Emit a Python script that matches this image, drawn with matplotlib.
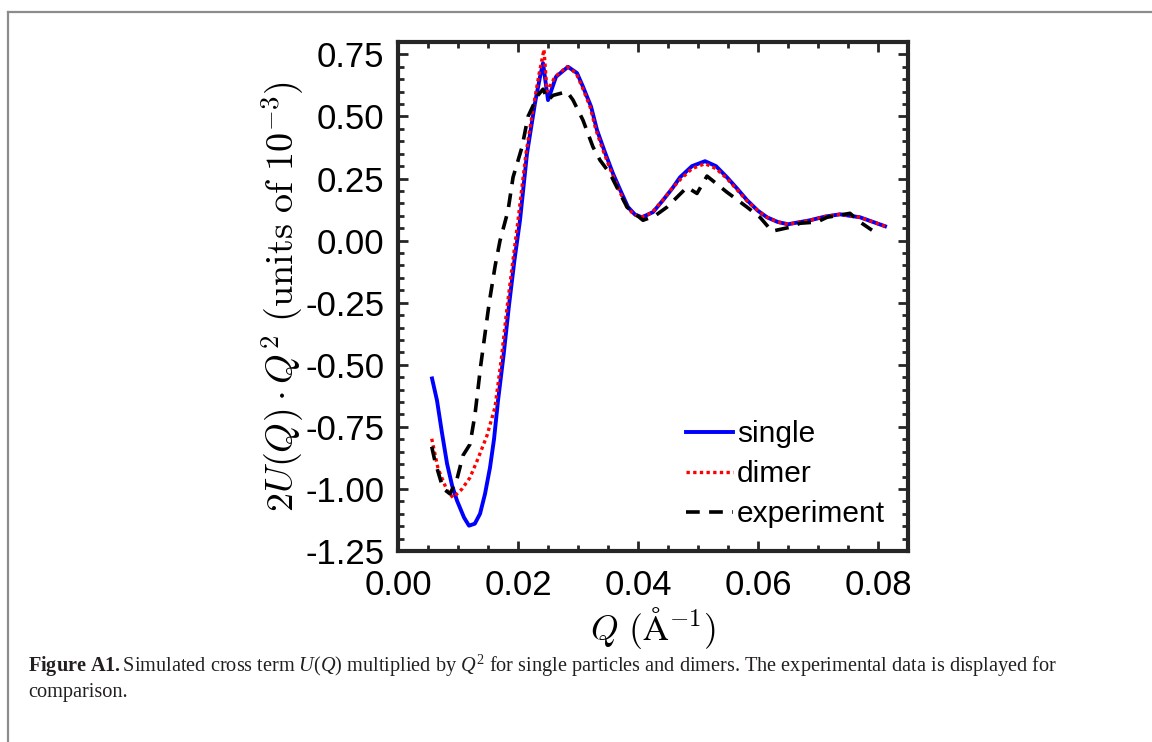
import matplotlib
matplotlib.use("Agg")
import matplotlib.pyplot as plt
from matplotlib.ticker import MultipleLocator, FormatStrFormatter
from matplotlib.lines import Line2D

# cross term U(Q)*Q^2, units of 1e-3
q_single = [0.00567, 0.0065, 0.0073, 0.00817, 0.0090, 0.00983, 0.0110, 0.01183, 0.0128,
            0.01367, 0.0145, 0.01533, 0.0160, 0.01667, 0.0176, 0.0185, 0.0194, 0.02033,
            0.0215, 0.02283, 0.02367, 0.02417, 0.025, 0.02633, 0.02833, 0.02983, 0.03083,
            0.03217, 0.03317, 0.0345, 0.03583, 0.0372, 0.03833, 0.0395, 0.04067, 0.0425,
            0.04417, 0.0457, 0.047, 0.0490, 0.05117, 0.0530, 0.05483, 0.0565, 0.05817,
            0.0600, 0.0615, 0.0633, 0.065, 0.06867, 0.0712, 0.07367, 0.077, 0.08117]
u_single = [-0.555, -0.644, -0.77, -0.898, -0.985, -1.047, -1.115, -1.148, -1.14,
            -1.10, -1.02, -0.914, -0.80, -0.644, -0.46, -0.26, -0.08, 0.082,
            0.351, 0.554, 0.66, 0.715, 0.566, 0.66, 0.70, 0.675, 0.62,
            0.54, 0.445, 0.355, 0.27, 0.195, 0.135, 0.105, 0.094, 0.115,
            0.163, 0.21, 0.255, 0.30, 0.32, 0.30, 0.255, 0.21, 0.163,
            0.12, 0.094, 0.075, 0.066, 0.082, 0.097, 0.106, 0.094, 0.058]

q_dimer = [0.00562, 0.00667, 0.00817, 0.00917, 0.01067, 0.012, 0.01333, 0.01483, 0.01617,
           0.0172, 0.01817, 0.0191, 0.02, 0.02133, 0.02267, 0.0235, 0.02433, 0.02483,
           0.02617, 0.02817, 0.02967, 0.03067, 0.032, 0.033, 0.0343, 0.03567, 0.037,
           0.03817, 0.0393, 0.0405, 0.0423, 0.044, 0.0455, 0.047, 0.049, 0.05117, 0.053,
           0.05483, 0.0565, 0.05817, 0.06, 0.0615, 0.0633, 0.065, 0.06867, 0.0712,
           0.07367, 0.077, 0.08117]
u_dimer = [-0.798, -0.918, -1.006, -1.035, -1.0, -0.954, -0.878, -0.785, -0.67,
           -0.48, -0.27, -0.09, 0.082, 0.351, 0.554, 0.67, 0.77, 0.60,
           0.66, 0.70, 0.675, 0.62, 0.54, 0.445, 0.355, 0.27, 0.195,
           0.135, 0.105, 0.094, 0.112, 0.16, 0.205, 0.245, 0.29, 0.31, 0.29,
           0.25, 0.205, 0.16, 0.12, 0.094, 0.075, 0.066, 0.082, 0.097,
           0.106, 0.094, 0.058]

q_exp = [0.00562, 0.00617, 0.0075, 0.00867, 0.00983, 0.01083, 0.012, 0.01283, 0.0138,
         0.0152, 0.0162, 0.017, 0.01833, 0.01917, 0.02067, 0.02167, 0.02333, 0.02417,
         0.025, 0.02583, 0.02817, 0.02917, 0.03083, 0.0325, 0.03367, 0.03533, 0.037,
         0.03817, 0.04083, 0.04283, 0.04483, 0.04817, 0.04983, 0.0515, 0.05483, 0.05817,
         0.06033, 0.06233, 0.06533, 0.067, 0.06983, 0.0715, 0.07533, 0.077, 0.079]
u_exp = [-0.83, -0.89, -0.998, -1.02, -0.96, -0.865, -0.82, -0.70, -0.50,
         -0.25, -0.10, 0.0, 0.12, 0.255, 0.377, 0.50, 0.586, 0.61,
         0.566, 0.585, 0.60, 0.566, 0.485, 0.377, 0.324, 0.27, 0.19,
         0.135, 0.082, 0.10, 0.135, 0.215, 0.19, 0.26, 0.195, 0.135,
         0.094, 0.038, 0.054, 0.07, 0.075, 0.094, 0.11, 0.075, 0.042]

labels = ["single", "dimer", "experiment"]

plt.rcParams["axes.unicode_minus"] = False
plt.rcParams["font.family"] = ["Liberation Sans", "DejaVu Sans"]
plt.rcParams["mathtext.fontset"] = "custom"
plt.rcParams["mathtext.rm"] = "Liberation Serif"
plt.rcParams["mathtext.it"] = "Liberation Serif:italic"
plt.rcParams["mathtext.bf"] = "Liberation Serif:bold"

fig = plt.figure(figsize=(11.52, 7.42), dpi=100)
ax = fig.add_axes([0.3455, 0.2574, 0.4427, 0.686])

dark = "#262626"
ax.plot(q_single, u_single, color="#0000ff", lw=2.8, label=labels[0])
ax.plot(q_dimer, u_dimer, color="#ff0000", lw=2.4, ls=(0, (1, 1)), label=labels[1])
ax.plot(q_exp, u_exp, color="black", lw=2.6, ls=(0, (3.8, 2.6)), label=labels[2])

ax.set_xlim(0, 0.085)
ax.set_ylim(-1.25, 0.80)
ax.xaxis.set_major_locator(MultipleLocator(0.02))
ax.xaxis.set_minor_locator(MultipleLocator(0.005))
ax.yaxis.set_major_locator(MultipleLocator(0.25))
ax.yaxis.set_minor_locator(MultipleLocator(0.05))
ax.xaxis.set_major_formatter(FormatStrFormatter("%.2f"))
ax.yaxis.set_major_formatter(FormatStrFormatter("%.2f"))

for s in ax.spines.values():
    s.set_linewidth(3.0)
    s.set_color(dark)
ax.tick_params(which="both", direction="in", top=True, right=True, color=dark,
               width=2.0, labelsize=25, labelcolor="black")
ax.tick_params(which="major", length=7)
ax.tick_params(which="minor", length=4)
ax.tick_params(axis="x", which="major", pad=13)
ax.tick_params(axis="y", which="major", pad=10)

ax.set_xlabel(r"$Q\ (\mathrm{\AA}^{-1})$", fontsize=25.5, math_fontfamily="cm", labelpad=2)
ax.set_ylabel(r"$2U(Q)\cdot Q^2\ (\mathrm{units\ of\ }10^{-3})$", fontsize=27.5,
              math_fontfamily="cm", labelpad=-1)

ax.legend(loc="lower right", bbox_to_anchor=(1.014, -0.014), frameon=False, fontsize=21.5,
          handlelength=1.55, handletextpad=0.15, labelspacing=0.4, borderaxespad=0.6)

# page frame
fig.add_artist(Line2D([0.0069, 1.0], [0.9838, 0.9838], color="#8c8c8c", lw=1.6))
fig.add_artist(Line2D([0.0069, 0.0069], [0.0, 0.9838], color="#8c8c8c", lw=1.6))

fig.text(0.0243, 0.095,
         r"$\mathbf{Figure\ A1.}$Simulated cross term $U$($Q$) multiplied by $Q^2$ for single "
         r"particles and dimers. The experimental data is displayed for",
         fontsize=14.6, family="Liberation Serif", color="#231f20")
fig.text(0.0243, 0.061, "comparison.", fontsize=14.6, family="Liberation Serif", color="#231f20")

fig.savefig("out.png", dpi=100)
